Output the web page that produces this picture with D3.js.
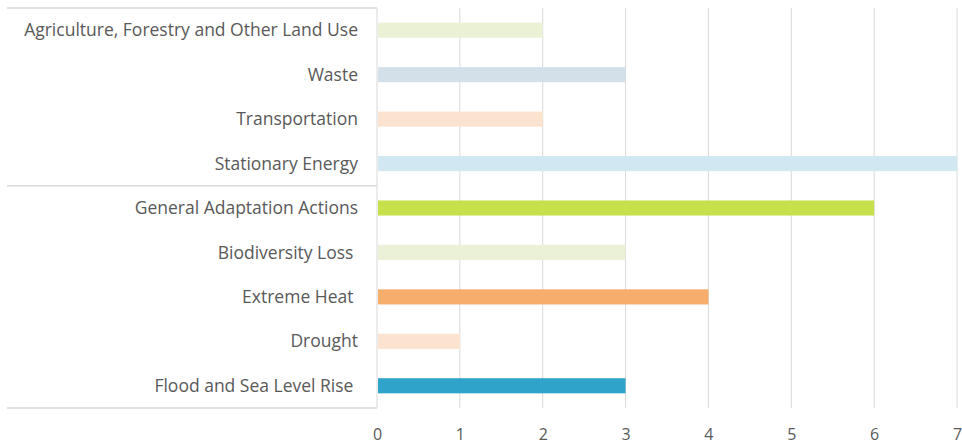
<!DOCTYPE html>
<html lang="en">
<head>
<meta charset="utf-8">
<script src="https://d3js.org/d3.v7.min.js"></script>
<style>
  body { margin: 0; background: #fff; }
  text { font-family: "Open Sans", sans-serif; fill: #595959; }
  .cat text { font-size: 17.5px; white-space: pre; }
</style>
</head>
<body>
<svg width="962" height="446"></svg>
<script>
// categories top to bottom, with the group they belong to
var categories = [
  "Agriculture, Forestry and Other Land Use",
  "Waste",
  "Transportation",
  "Stationary Energy",
  "General Adaptation Actions",
  "Biodiversity Loss ",
  "Extreme Heat ",
  "Drought",
  "Flood and Sea Level Rise "
];
var groups = ["mitigation", "mitigation", "mitigation", "mitigation",
              "adaptation", "adaptation", "adaptation", "adaptation", "adaptation"];
var values = [2, 3, 2, 7, 6, 3, 4, 1, 3];
var colors = ["#ebf1d5", "#d4e0e9", "#fce3cf", "#d1e8f3",
              "#c6e04b", "#ebf1d7", "#f7ad6b", "#fce3cf", "#2fa3c9"];
var xTicks = [0, 1, 2, 3, 4, 5, 6, 7];

var svg = d3.select("svg");
var margin = {top: 8, right: 5, bottom: 38, left: 377};
var width = 962 - margin.left - margin.right;
var height = 446 - margin.top - margin.bottom;

var x = d3.scaleLinear().domain([0, 7]).range([0, width]);
var y = d3.scaleBand().domain(categories).range([0, height]).paddingInner(0.66).paddingOuter(0.33);

var g = svg.append("g").attr("transform", "translate(" + margin.left + "," + margin.top + ")");

// vertical gridlines
g.append("g")
  .selectAll("line")
  .data(xTicks)
  .enter().append("line")
  .attr("x1", function (d) { return x(d); })
  .attr("x2", function (d) { return x(d); })
  .attr("y1", 0)
  .attr("y2", height)
  .attr("stroke", "#d9d9d9")
  .attr("stroke-width", 1);

// bars
g.append("g")
  .selectAll("rect")
  .data(values)
  .enter().append("rect")
  .attr("x", x(0) + 1)
  .attr("y", function (d, i) { return y(categories[i]); })
  .attr("width", function (d) { return x(d) - x(0) - 1; })
  .attr("height", y.bandwidth())
  .attr("fill", function (d, i) { return colors[i]; });

// bottom axis labels
var xAxis = d3.axisBottom(x).tickValues(xTicks).tickFormat(d3.format("d")).tickSize(0).tickPadding(21);
var ax = g.append("g").attr("transform", "translate(0," + height + ")").call(xAxis);
ax.select(".domain").remove();
ax.selectAll("text")
  .attr("fill", "#595959")
  .style("font-family", "Open Sans, sans-serif")
  .style("font-size", "16px");

// category labels
var cat = g.append("g").attr("class", "cat");
cat.selectAll("text")
  .data(categories)
  .enter().append("text")
  .attr("x", -19)
  .attr("y", function (d) { return y(d) + y.bandwidth() / 2; })
  .attr("dy", "0.35em")
  .attr("text-anchor", "end")
  .text(function (d) { return d; });

// group boundaries: horizontal lines extending left of the plot
var step = y.step();
var boundaries = [0];
for (var i = 1; i < groups.length; i++) {
  if (groups[i] !== groups[i - 1]) boundaries.push(i * step);
}
boundaries.push(height);
g.append("g")
  .selectAll("line")
  .data(boundaries)
  .enter().append("line")
  .attr("x1", -370)
  .attr("x2", 0)
  .attr("y1", function (d) { return d; })
  .attr("y2", function (d) { return d; })
  .attr("stroke", "#d9d9d9")
  .attr("stroke-width", 1.5);
</script>
</body>
</html>
